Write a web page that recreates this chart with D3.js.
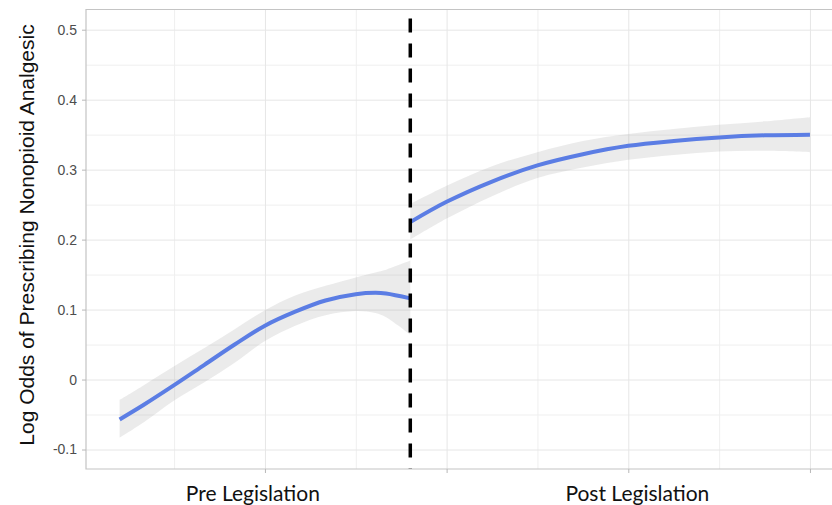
<!DOCTYPE html>
<html>
<head>
<meta charset="utf-8">
<script src="https://cdnjs.cloudflare.com/ajax/libs/d3/7.8.5/d3.min.js"></script>
<style>
	body { margin: 0; background: #fff; }
	svg { display: block; }
	.axis path { display: none; }
	.axis line { stroke: #b8b8b8; }
	.y.axis text { fill: #4d4d4d; font-family: 'Liberation Sans', Arial, sans-serif; font-size: 14px; }
	.grid line { stroke: #e6e6e6; }
	.grid.minor line { stroke: #efefef; }
	.grid path { display: none; }
</style>
</head>
<body>
<div id="chart"></div>
<script>
// months since start of the study window
var preMonths = [2.4, 4, 6, 8, 10, 12, 14, 16, 18, 19.3, 20, 21.6];
var preFit = [-0.057, -0.036, -0.008, 0.021, 0.05, 0.077, 0.097, 0.113, 0.122, 0.124, 0.123, 0.116];
var preUpper = [-0.029, -0.008, 0.019, 0.045, 0.072, 0.099, 0.12, 0.134, 0.146, 0.153, 0.157, 0.17];
var preLower = [-0.083, -0.061, -0.03, -0.004, 0.024, 0.055, 0.077, 0.092, 0.098, 0.095, 0.089, 0.064];

var postMonths = [21.6, 24, 27, 30, 33, 36, 39, 42, 45, 48];
var postFit = [0.225, 0.254, 0.283, 0.306, 0.322, 0.334, 0.341, 0.346, 0.349, 0.35];
var postUpper = [0.251, 0.277, 0.305, 0.325, 0.341, 0.351, 0.358, 0.364, 0.369, 0.375];
var postLower = [0.2, 0.23, 0.262, 0.288, 0.303, 0.314, 0.321, 0.326, 0.327, 0.325];

var cutoff = 21.6;
var xMajor = [12, 24, 36, 48];
var xMinor = [6, 18, 30, 42];
var yMajor = [-0.1, 0, 0.1, 0.2, 0.3, 0.4, 0.5];
var yMinor = [-0.05, 0.05, 0.15, 0.25, 0.35, 0.45];
var periodLabels = ['Pre Legislation', 'Post Legislation'];
var periodCenters = [11.2, 36.6];
var yTitle = 'Log Odds of Prescribing Nonopioid Analgesic';

var width = 832;
var height = 505;
var panel = { left: 86, right: 846, top: 9.5, bottom: 469 };

var makeSeries = function(months, fit, upper, lower) {
	return months.map(function(m, i) {
		return { x: m, fit: fit[i], hi: upper[i], lo: lower[i] };
	});
};

var series = [
	makeSeries(preMonths, preFit, preUpper, preLower),
	makeSeries(postMonths, postFit, postUpper, postLower)
];

var svg = d3.select('#chart')
	.append('svg')
	.attr('width', width)
	.attr('height', height);

var xScale = d3.scaleLinear()
	.domain([0.18, 50.38])
	.range([panel.left, panel.right]);

var yScale = d3.scaleLinear()
	.domain([-0.1, 0.5])
	.range([449.5, 29.7]);

/*
 * Grid
 */
svg.append('g')
	.attr('class', 'grid minor')
	.attr('transform', 'translate(0,' + panel.bottom + ')')
	.call(d3.axisBottom(xScale).tickValues(xMinor).tickSize(-(panel.bottom - panel.top)).tickFormat(''));

svg.append('g')
	.attr('class', 'grid minor')
	.attr('transform', 'translate(' + panel.left + ',0)')
	.call(d3.axisLeft(yScale).tickValues(yMinor).tickSize(-(panel.right - panel.left)).tickFormat(''));

svg.append('g')
	.attr('class', 'grid')
	.attr('transform', 'translate(0,' + panel.bottom + ')')
	.call(d3.axisBottom(xScale).tickValues(xMajor).tickSize(-(panel.bottom - panel.top)).tickFormat(''));

svg.append('g')
	.attr('class', 'grid')
	.attr('transform', 'translate(' + panel.left + ',0)')
	.call(d3.axisLeft(yScale).tickValues(yMajor).tickSize(-(panel.right - panel.left)).tickFormat(''));

/*
 * Confidence bands and fitted lines
 */
var area = d3.area()
	.curve(d3.curveCatmullRom.alpha(0.5))
	.x(function(d) { return xScale(d.x); })
	.y0(function(d) { return yScale(d.lo); })
	.y1(function(d) { return yScale(d.hi); });

var line = d3.line()
	.curve(d3.curveCatmullRom.alpha(0.5))
	.x(function(d) { return xScale(d.x); })
	.y(function(d) { return yScale(d.fit); });

svg.append('g')
	.selectAll('path')
	.data(series)
	.enter()
	.append('path')
	.attr('d', area)
	.attr('fill', '#999999')
	.attr('fill-opacity', 0.2);

svg.append('g')
	.selectAll('path')
	.data(series)
	.enter()
	.append('path')
	.attr('d', line)
	.attr('fill', 'none')
	.attr('stroke', '#5b7de4')
	.attr('stroke-width', 4)
	.attr('stroke-linecap', 'butt');

/*
 * Cutoff line
 */
svg.append('line')
	.attr('x1', xScale(cutoff))
	.attr('x2', xScale(cutoff))
	.attr('y1', panel.top + 9)
	.attr('y2', panel.bottom)
	.attr('stroke', '#000')
	.attr('stroke-width', 3.5)
	.attr('stroke-dasharray', '14,11');

/*
 * Panel border (left, top, bottom)
 */
svg.append('path')
	.attr('d', 'M' + panel.right + ',' + panel.top + 'H' + panel.left + 'V' + panel.bottom + 'H' + panel.right)
	.attr('fill', 'none')
	.attr('stroke', '#c4c4c4')
	.attr('stroke-width', 1.2);

/*
 * Axes
 */
svg.append('g')
	.attr('class', 'x axis')
	.attr('transform', 'translate(0,' + panel.bottom + ')')
	.call(d3.axisBottom(xScale).tickValues(xMajor).tickSize(4).tickFormat(''));

svg.append('g')
	.attr('class', 'y axis')
	.attr('transform', 'translate(' + panel.left + ',0)')
	.call(d3.axisLeft(yScale).tickValues(yMajor).tickSize(4).tickPadding(5)
		.tickFormat(function(d) { return d === 0 ? '0' : d3.format('.1f')(d).replace('\u2212', '-'); }));

svg.append('text')
	.attr('transform', 'translate(34,' + 235 + ') rotate(-90)')
	.attr('text-anchor', 'middle')
	.attr('font-family', "'Liberation Sans', Arial, sans-serif")
	.attr('font-size', '21px')
	.attr('fill', '#111')
	.text(yTitle);

svg.append('g')
	.selectAll('text')
	.data(periodLabels)
	.enter()
	.append('text')
	.attr('x', function(d, i) { return xScale(periodCenters[i]); })
	.attr('y', 501)
	.attr('text-anchor', 'middle')
	.attr('font-family', 'Lato, sans-serif')
	.attr('font-size', '21px')
	.attr('fill', '#111')
	.text(function(d) { return d; });
</script>
</body>
</html>
